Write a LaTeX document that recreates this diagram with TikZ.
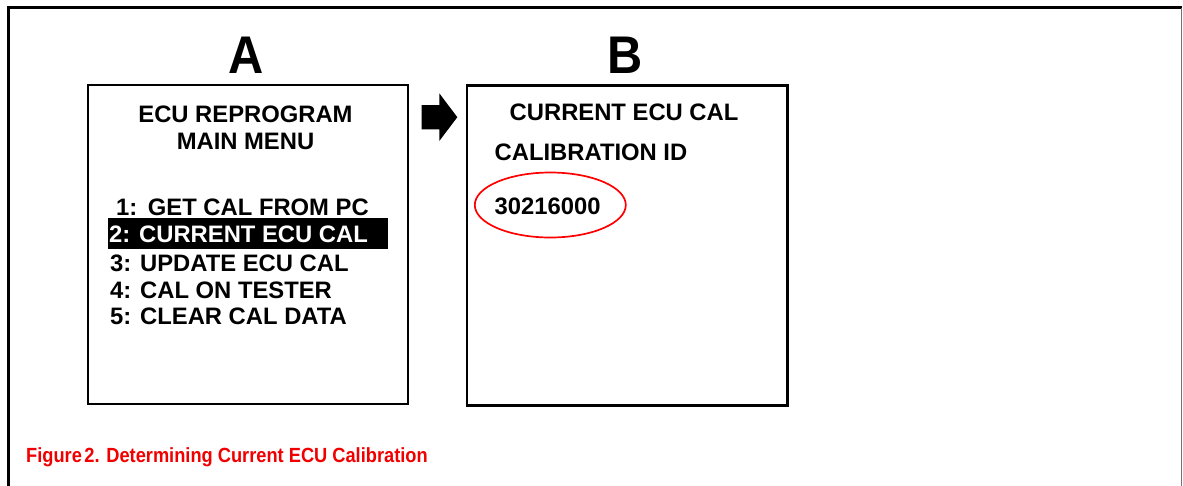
\documentclass[tikz,border=0pt]{standalone}
\usepackage{fontspec}
\setmainfont{Liberation Sans}
\newfontfamily\capfont[FakeStretch=0.89]{Liberation Sans}
\newfontfamily\bigfont[FakeStretch=0.92]{Liberation Sans}
\usetikzlibrary{shapes.geometric}
\definecolor{capred}{RGB}{240,0,0}
\tikzset{
  lbl/.style={font=\bfseries\fontsize{23.8}{28}\selectfont, inner sep=0pt, anchor=base west, text=black},
  biglbl/.style={font=\bigfont\bfseries\fontsize{53}{60}\selectfont, inner sep=0pt, anchor=base},
  screen/.style={draw=black, line width=2.6pt, inner sep=0pt, anchor=north west},
  caption/.style={font=\capfont\bfseries\fontsize{20.5}{24}\selectfont, text=capred, inner sep=0pt, anchor=base west},
  ring/.style={ellipse, draw=red, line width=1.7pt, inner sep=0pt}
}
\begin{document}
\begin{tikzpicture}[x=1pt,y=-1pt]
\useasboundingbox (0,0) rectangle (1183,485);
% outer frame
\draw[line width=2.2pt, black] (8.5,490) -- (8.5,7.5) -- (1181.5,7.5);
\draw[line width=1.5pt, black!55] (1181.5,7.5) -- (1181.5,490);
% headings
\node[biglbl] (A) at (246,73) {A};
\node[biglbl] (B) at (625.5,73.3) {B};
% screens
\node[screen, minimum width=320pt, minimum height=319pt] (boxA) at (86.5,83.5) {};
\node[screen, minimum width=320.5pt, minimum height=320pt] (boxB) at (465.5,84) {};
% block arrow
\fill[black] (421.7,105) -- (439.3,105) -- (439.3,93.3) -- (457.3,117.2) -- (439.3,141) -- (439.3,129.3) -- (421.7,129.3) -- cycle;
% screen A
\node[lbl, anchor=base] (a1) at (245.5,122.7) {ECU REPROGRAM};
\node[lbl, anchor=base] (a2) at (245.5,149) {MAIN MENU};
\node[lbl] (m1) at (116,215.5) {1:\ \,GET CAL FROM PC};
\node[fill=black, inner sep=0pt, minimum width=280pt, minimum height=30.5pt, anchor=north west] (bar) at (107.3,218) {};
\node[lbl, text=white] (m2) at (109,242.6) {2: CURRENT ECU CAL};
\node[lbl] (m3) at (110,271.6) {3: UPDATE ECU CAL};
\node[lbl] (m4) at (110,298.3) {4: CAL ON TESTER};
\node[lbl] (m5) at (110,324.3) {5: CLEAR CAL DATA};
% screen B
\node[lbl] (b1) at (509.5,120.7) {CURRENT ECU CAL};
\node[lbl] (b2) at (494.5,160) {CALIBRATION ID};
\node[lbl] (b3) at (494.5,214.3) {30216000};
\node[ring, minimum width=151pt, minimum height=65pt] (ring) at (550.3,205) {};
% caption
\node[caption] (cap) at (26,462.7) {Figure\hspace{0.12em}2. Determining Current ECU Calibration};
\end{tikzpicture}
\end{document}
